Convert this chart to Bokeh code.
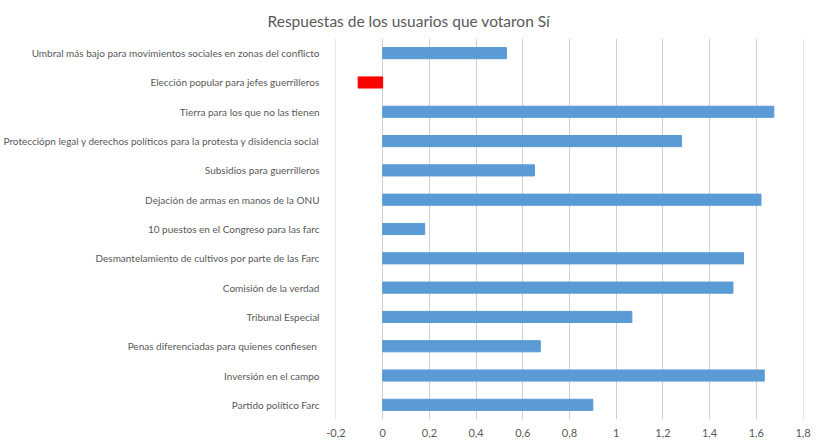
from bokeh.plotting import figure
from bokeh.models import FactorRange, FixedTicker, CustomJSTickFormatter, ColumnDataSource
from bokeh.embed import file_html
from bokeh.resources import INLINE

title_text = "Respuestas de los usuarios que votaron Sí"

categories = [
    "Umbral más bajo para movimientos sociales en zonas del conflicto",
    "Elección popular para jefes guerrilleros",
    "Tierra para los que no las tienen",
    "Protecciópn legal y derechos políticos para la protesta y disidencia social",
    "Subsidios para guerrilleros",
    "Dejación de armas en manos de la ONU",
    "10 puestos en el Congreso para las farc",
    "Desmantelamiento de cultivos por parte de las Farc",
    "Comisión de la verdad",
    "Tribunal Especial",
    "Penas diferenciadas para quienes confiesen ",
    "Inversión en el campo",
    "Partido político Farc",
]

values = [0.53, -0.105, 1.675, 1.28, 0.65, 1.62, 0.18, 1.545, 1.50, 1.067, 0.675, 1.634, 0.90]

tick_values = [-0.2, 0.0, 0.2, 0.4, 0.6, 0.8, 1.0, 1.2, 1.4, 1.6, 1.8]
tick_labels = ["-0,2", "0", "0,2", "0,4", "0,6", "0,8", "1", "1,2", "1,4", "1,6", "1,8"]

BLUE = "#5B9BD5"
RED = "#FF0000"
TEXT = "#595959"
GRID = "#D0D0D0"

colors = [RED if v < 0 else BLUE for v in values]

source = ColumnDataSource(dict(cat=categories, val=values, color=colors))

p = figure(
    y_range=FactorRange(factors=list(reversed(categories))),
    x_range=(-0.202, 1.802),
    frame_width=468,
    frame_height=381,
    min_border_left=335,
    min_border_right=17,
    min_border_top=38,
    min_border_bottom=26,
    output_backend="svg",
    toolbar_location=None,
    title=title_text,
)

p.hbar(y="cat", left=0, right="val", height=0.38, color="color", source=source)

p.title.align = "left"
p.title.offset = -68
p.title.text_font = "Lato"
p.title.text_font_size = "15.5px"
p.title.text_font_style = "normal"
p.title.text_color = TEXT
p.title.standoff = 17

p.outline_line_color = None
p.background_fill_color = "white"
p.border_fill_color = "white"

ticker = FixedTicker(ticks=tick_values)
p.xaxis.ticker = ticker
p.xgrid.ticker = ticker
p.xaxis.formatter = CustomJSTickFormatter(
    args=dict(vals=tick_values, labs=tick_labels),
    code="""
    let best = 0;
    for (let i = 0; i < vals.length; i++) {
        if (Math.abs(vals[i] - tick) < Math.abs(vals[best] - tick)) best = i;
    }
    return labs[best];
    """,
)
p.xaxis.axis_line_color = None
p.xaxis.major_tick_line_color = None
p.xaxis.minor_tick_line_color = None
p.xaxis.major_label_text_font = "Lato"
p.xaxis.major_label_text_font_size = "11px"
p.xaxis.major_label_text_color = TEXT
p.xaxis.major_label_standoff = 3

p.yaxis.axis_line_color = None
p.yaxis.major_tick_line_color = None
p.yaxis.minor_tick_line_color = None
p.yaxis.major_label_text_font = "Lato"
p.yaxis.major_label_text_font_size = "10px"
p.yaxis.major_label_text_color = TEXT
p.yaxis.major_label_standoff = 10

p.xgrid.grid_line_color = GRID
p.xgrid.grid_line_width = 1
p.ygrid.grid_line_color = None

open("out.html", "w").write(file_html(p, INLINE))
